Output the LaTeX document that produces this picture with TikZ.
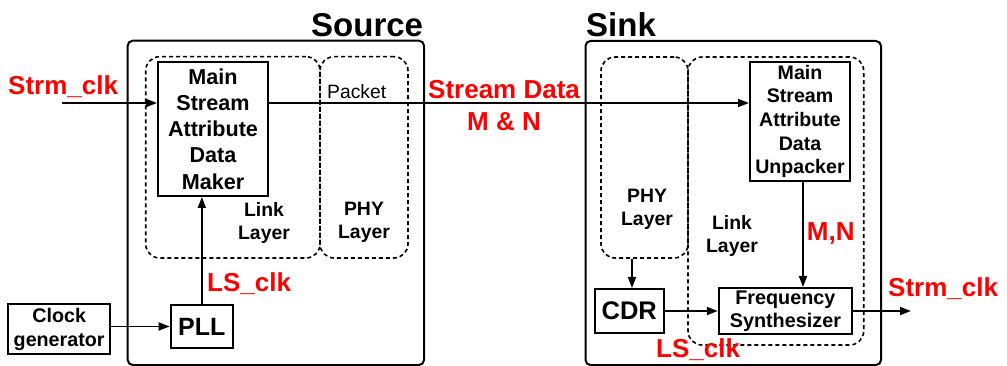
\documentclass[tikz,border=0pt]{standalone}
\usepackage{fontspec}
\setmainfont{Liberation Sans}
\usetikzlibrary{arrows.meta}
\newcommand\fsz[2]{\fontsize{#1}{#2}\selectfont}
\begin{document}
\begin{tikzpicture}[x=1pt,y=-1pt,
  outer/.style={draw, line width=2pt, rounded corners=5pt, inner sep=0pt},
  layer/.style={draw, line width=1.6pt, dash pattern=on 4pt off 3pt, rounded corners=14pt, inner sep=0pt},
  block/.style={draw, line width=2pt, inner sep=0pt, align=center},
  arr/.style={-{Triangle[length=11pt,width=8pt]}, line width=1.8pt},
  redlab/.style={text=red, font=\fsz{26}{30}\bfseries, inner sep=0pt},
  title/.style={font=\fsz{33}{38}\bfseries, inner sep=0pt},
  lab/.style={font=\fsz{19.4}{23}\bfseries, align=center, inner sep=0pt}]
\useasboundingbox (0,0) rectangle (1007,366);

% outer enclosures
\node[outer, minimum width=296.3, minimum height=324.3] (src) at (275.85,202.85) {};
\node[outer, minimum width=295.5, minimum height=324] (snk) at (733.25,203) {};
\node[title, anchor=base west] (srct) at (311,37) {Source};
\node[title, anchor=base west] (snkt) at (586,37) {Sink};

% layer regions
\node[layer, minimum width=174.3, minimum height=201.3] (slink) at (232.85,157.35) {};
\node[layer, minimum width=88, minimum height=201.3] (sphy) at (364,157.35) {};
\node[layer, minimum width=87, minimum height=201] (kphy) at (644.5,157.5) {};
\node[layer, minimum width=175.7, minimum height=288] (klink) at (775.85,201) {};

\node[lab] (slinkt) at (264,222.5) {Link\\Layer};
\node[lab] (sphyt) at (364,222.5) {PHY\\Layer};
\node[lab] (kphyt) at (647,209) {PHY\\Layer};
\node[lab] (klinkt) at (732,235.5) {Link\\Layer};

% blocks
\node[block, minimum width=110, minimum height=134, font=\fsz{21.6}{26.2}\bfseries] (maker) at (213,129)
  {Main\\Stream\\Attribute\\Data\\Maker};
\node[block, minimum width=100, minimum height=119, font=\fsz{19.6}{23.7}\bfseries] (unp) at (800,121.5)
  {Main\\Stream\\Attribute\\Data\\Unpacker};
\node[block, minimum width=133.2, minimum height=46, font=\fsz{19.8}{23}\bfseries] (freq) at (785.4,311)
  {Frequency\\Synthesizer};
\node[block, minimum width=68.9, minimum height=44, font=\fsz{25.5}{30}\bfseries] (cdr) at (629.25,311) {CDR};
\node[block, minimum width=62.3, minimum height=43, font=\fsz{25}{30}\bfseries] (pll) at (201.85,326.5) {PLL};
\node[block, minimum width=101.7, minimum height=50, font=\fsz{19.7}{24}\bfseries] (clk) at (59.15,329)
  {Clock\\generator};

% free ends
\coordinate (in) at (62,103);
\coordinate (out) at (911,311);

% connectors
\draw[arr] (in) -- (in -| maker.west);
\draw[arr] (maker.east |- in) -- (unp.west |- in);
\draw[arr] (pll.north) -- (pll.north |- maker.south);
\draw[arr] (pll.west -| clk.east) -- (pll.west);
\draw[arr] (unp.south -| 803,0) -- (freq.north -| 803,0);
\draw[arr] (kphy.south -| 632,0) -- (cdr.north -| 632,0);
\draw[arr] (cdr.east) -- (freq.west);
\draw[arr] (freq.east) -- (out);

% signal labels
\node[redlab, anchor=base west] (l1) at (8,95) {Strm\_clk};
\node[font=\fsz{19.3}{23}, inner sep=0pt, anchor=base west] (l2) at (327,99) {Packet};
\node[redlab, anchor=base west] (l3) at (428,99) {Stream Data};
\node[redlab, anchor=base] (l4) at (504,131) {M \& N};
\node[redlab, anchor=base west] (l5) at (207,291) {LS\_clk};
\node[redlab, anchor=base west] (l6) at (806.7,241) {M,N};
\node[redlab, anchor=base west] (l7) at (888,297) {Strm\_clk};
\node[redlab, anchor=base west] (l8) at (656,357) {LS\_clk};
\end{tikzpicture}
\end{document}
